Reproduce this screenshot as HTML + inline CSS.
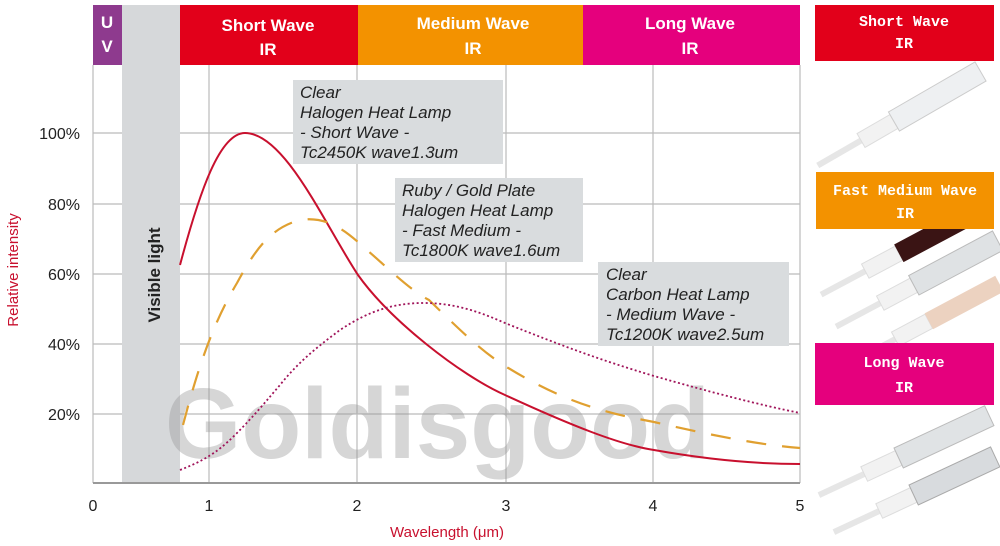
<!DOCTYPE html>
<html><head><meta charset="utf-8"><style>
html,body{margin:0;padding:0;background:#fff;}
svg{display:block}
</style></head><body>
<svg width="1000" height="546" viewBox="0 0 1000 546" xmlns="http://www.w3.org/2000/svg" font-family="Liberation Sans, sans-serif">
<rect width="1000" height="546" fill="#fff"/>
<rect x="93" y="5" width="29" height="60" fill="#8e3a8e"/>
<rect x="122" y="5" width="58" height="478" fill="#d6d8da"/>
<rect x="180" y="5" width="178" height="60" fill="#e2001a"/>
<rect x="358" y="5" width="225" height="60" fill="#f39200"/>
<rect x="583" y="5" width="217" height="60" fill="#e5007d"/>
<g fill="#fff" font-weight="bold" font-size="17" text-anchor="middle">
<text x="107" y="28">U</text><text x="107" y="52">V</text>
<text x="268" y="31">Short Wave</text><text x="268" y="55">IR</text>
<text x="473" y="29">Medium Wave</text><text x="473" y="54">IR</text>
<text x="690" y="29">Long Wave</text><text x="690" y="54">IR</text>
</g>
<g stroke="#bbb" stroke-width="1.2">
<line x1="93" y1="133" x2="122" y2="133"/><line x1="180" y1="133" x2="800" y2="133"/>
<line x1="93" y1="204" x2="122" y2="204"/><line x1="180" y1="204" x2="800" y2="204"/>
<line x1="93" y1="274" x2="122" y2="274"/><line x1="180" y1="274" x2="800" y2="274"/>
<line x1="93" y1="344" x2="122" y2="344"/><line x1="180" y1="344" x2="800" y2="344"/>
<line x1="93" y1="414" x2="122" y2="414"/><line x1="180" y1="414" x2="800" y2="414"/>
<line x1="93" y1="65" x2="93" y2="483"/>
<line x1="209" y1="65" x2="209" y2="483"/><line x1="357" y1="65" x2="357" y2="483"/>
<line x1="506" y1="65" x2="506" y2="483"/><line x1="653" y1="65" x2="653" y2="483"/>
<line x1="800" y1="65" x2="800" y2="483"/>
</g>
<line x1="93" y1="483" x2="800" y2="483" stroke="#999" stroke-width="2"/>
<text transform="translate(160,275) rotate(-90)" text-anchor="middle" font-weight="bold" font-size="17" fill="#222">Visible light</text>
<text x="165" y="458" font-size="100" font-weight="bold" fill="#999" fill-opacity="0.4" textLength="545" lengthAdjust="spacingAndGlyphs">Goldisgood</text>
<g font-size="16" fill="#222" text-anchor="end">
<text x="80" y="139">100%</text><text x="80" y="210">80%</text><text x="80" y="280">60%</text>
<text x="80" y="350">40%</text><text x="80" y="420">20%</text>
</g>
<text transform="translate(18,270) rotate(-90)" text-anchor="middle" font-size="15" fill="#c8102e">Relative intensity</text>
<g font-size="16" fill="#222" text-anchor="middle">
<text x="93" y="511">0</text><text x="209" y="511">1</text><text x="357" y="511">2</text>
<text x="506" y="511">3</text><text x="653" y="511">4</text><text x="800" y="511">5</text>
</g>
<text x="447" y="537" text-anchor="middle" font-size="15" fill="#c8102e">Wavelength (μm)</text>
<path d="M180,265 C200,190 220,133 245,133 C285,133 325,225 358,275 C390,320 460,375 505,395 C570,425 620,445 654,450 C710,460 760,464 800,464" fill="none" stroke="#c8102e" stroke-width="2"/>
<path d="M183,425 C200,360 215,320 237,283 C255,250 270,228 300,220 C330,215 350,235 367,250 C390,270 410,290 429,300 C460,330 480,350 505,366 C560,400 600,412 654,422 C710,435 760,445 800,448" fill="none" stroke="#e0a030" stroke-width="2.2" stroke-dasharray="20,16"/>
<path d="M180,470 C200,462 215,455 235,435 C255,415 267,400 280,385 C300,360 320,345 340,330 C370,310 395,303 424,303 C455,303 480,312 505,323 C560,345 600,360 654,376 C710,392 760,405 800,413" fill="none" stroke="#a0145a" stroke-width="1.8" stroke-dasharray="2,2.5"/>
<g font-size="17" font-style="italic" fill="#222">
<rect x="293" y="80" width="210" height="84" fill="#d9dcde"/>
<text x="300" y="98">Clear</text><text x="300" y="118">Halogen Heat Lamp</text><text x="300" y="138">- Short Wave -</text><text x="300" y="158">Tc2450K   wave1.3um</text>
<rect x="395" y="178" width="188" height="84" fill="#d9dcde"/>
<text x="402" y="196">Ruby  /  Gold Plate</text><text x="402" y="216">Halogen Heat Lamp</text><text x="402" y="236">- Fast Medium -</text><text x="402" y="256">Tc1800K wave1.6um</text>
<rect x="598" y="262" width="191" height="84" fill="#d9dcde"/>
<text x="606" y="280">Clear</text><text x="606" y="300">Carbon Heat Lamp</text><text x="606" y="320">- Medium Wave -</text><text x="606" y="340">Tc1200K  wave2.5um</text>
</g>
<g>
<g transform="translate(900,118) rotate(-30)">
<rect x="-95" y="-3" width="55" height="6" fill="#e6e6e6"/>
<rect x="-45" y="-8" width="38" height="16" fill="#f2f2f2" stroke="#ddd"/>
<rect x="-7" y="-11" width="100" height="22" fill="#eef0f2" stroke="#ccc"/>
</g>
<g transform="translate(905,250) rotate(-28)">
<rect x="-95" y="-3" width="55" height="6" fill="#e6e6e6"/>
<rect x="-45" y="-8" width="38" height="16" fill="#f2f2f2" stroke="#ddd"/>
<rect x="-7" y="-10" width="80" height="20" fill="#3a1414"/>
</g>
<g transform="translate(920,282) rotate(-28)">
<rect x="-95" y="-3" width="55" height="6" fill="#e6e6e6"/>
<rect x="-45" y="-8" width="38" height="16" fill="#f2f2f2" stroke="#ddd"/>
<rect x="-7" y="-11" width="95" height="22" fill="#dfe2e4" stroke="#bbb"/>
</g>
<g transform="translate(935,318) rotate(-28)">
<rect x="-95" y="-3" width="55" height="6" fill="#e6e6e6"/>
<rect x="-45" y="-8" width="38" height="16" fill="#f2f2f2" stroke="#ddd"/>
<rect x="-7" y="-9" width="80" height="18" fill="#ecd2c0"/>
</g>
<g transform="translate(905,455) rotate(-25)">
<rect x="-95" y="-3" width="55" height="6" fill="#e6e6e6"/>
<rect x="-45" y="-8" width="38" height="16" fill="#f2f2f2" stroke="#ddd"/>
<rect x="-7" y="-11" width="100" height="22" fill="#e0e3e5" stroke="#bbb"/>
</g>
<g transform="translate(920,492) rotate(-25)">
<rect x="-95" y="-3" width="55" height="6" fill="#e6e6e6"/>
<rect x="-45" y="-8" width="38" height="16" fill="#f2f2f2" stroke="#ddd"/>
<rect x="-7" y="-11" width="90" height="22" fill="#d8dbde" stroke="#aaa"/>
</g>
</g>
<rect x="815" y="5" width="179" height="56" fill="#e2001a"/>
<rect x="816" y="172" width="178" height="57" fill="#f39200"/>
<rect x="815" y="343" width="179" height="62" fill="#e5007d"/>
<g font-family="Liberation Mono, monospace" font-weight="bold" font-size="15" fill="#fff" text-anchor="middle">
<text x="904" y="26">Short Wave</text><text x="904" y="48">IR</text>
<text x="905" y="195">Fast Medium Wave</text><text x="905" y="218">IR</text>
<text x="904" y="367">Long Wave</text><text x="904" y="392">IR</text>
</g>
</svg>
</body></html>
